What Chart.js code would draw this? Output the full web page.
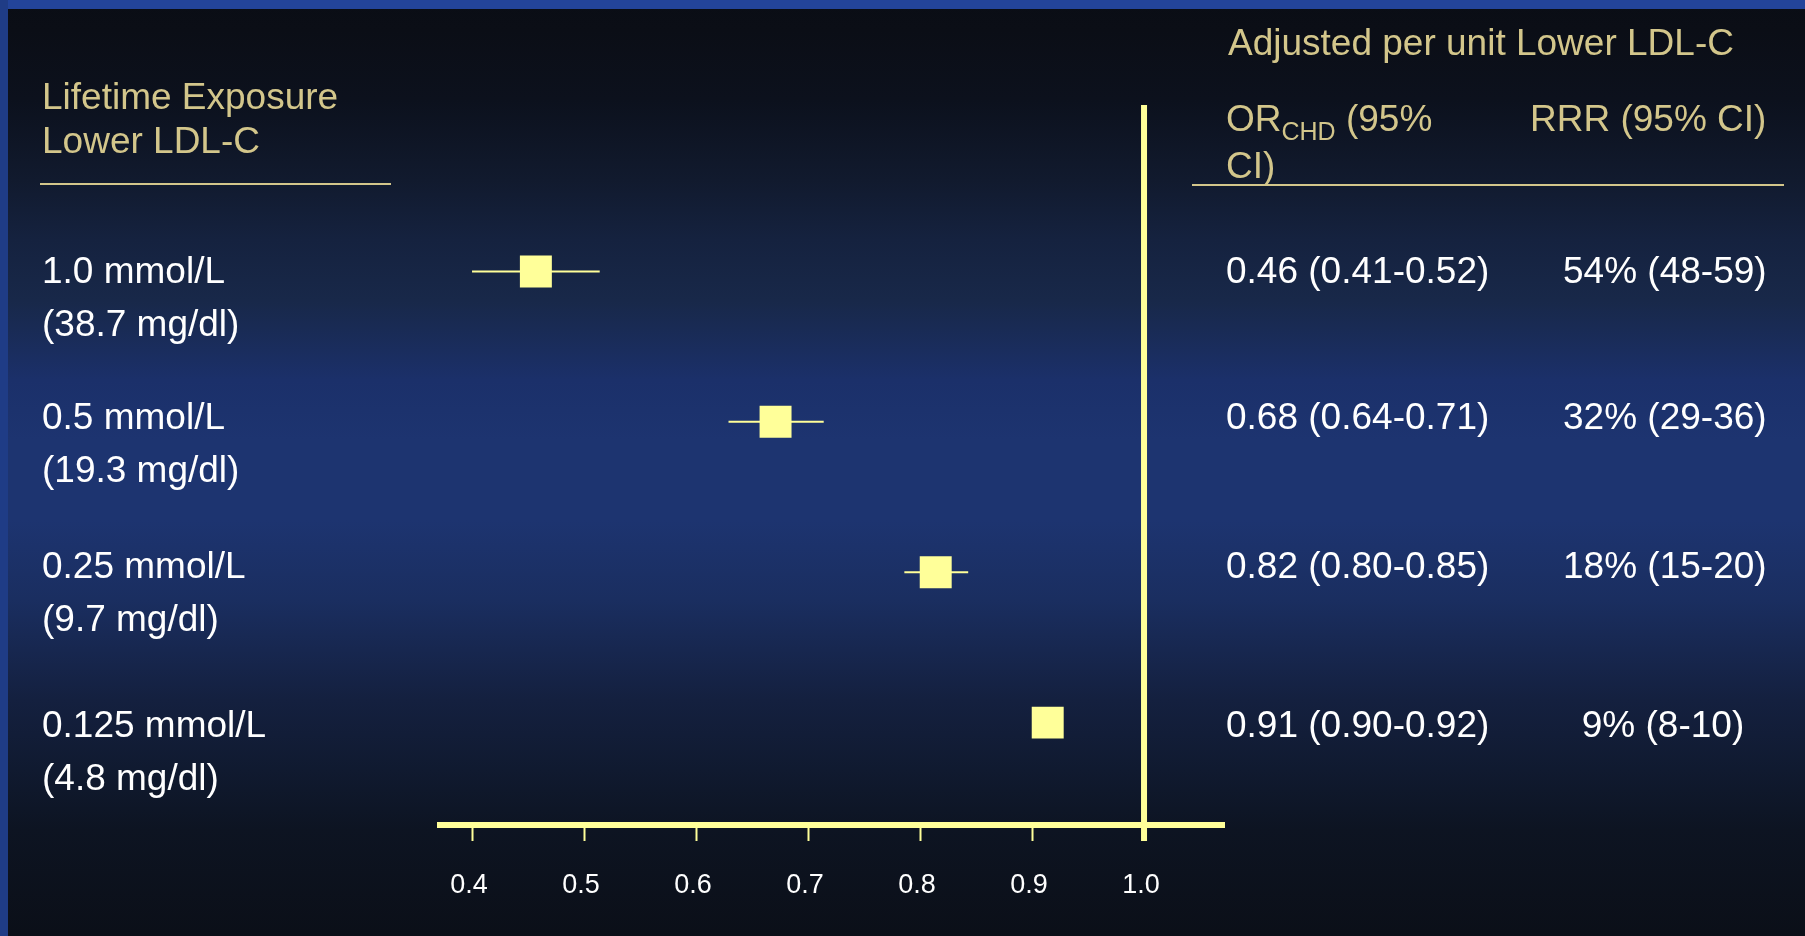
<!DOCTYPE html>
<html lang="en">
<head>
    <meta charset="UTF-8">
    <title>Lifetime Exposure to Lower LDL-C</title>
    <script src="https://cdn.jsdelivr.net/npm/chart.js"></script>
    <style>
        html, body { margin: 0; padding: 0; }
        body {
            width: 1805px; height: 936px; overflow: hidden; position: relative;
            font-family: "Liberation Sans", Arial, sans-serif; color: #fff;
            background: linear-gradient(to bottom,
                #0a0d15 0px, #0b0e16 30px, #0c111d 100px, #111a2e 180px, #15223f 240px,
                #182849 300px, #1b306a 380px, #1d3470 440px, #1d3470 520px, #1a2e60 600px,
                #14203f 700px, #101a30 770px, #0d1422 830px, #0b0f18 936px);
        }
        .band-top { position: absolute; left: 0; top: 0; width: 1805px; height: 9px; background: #23449a; }
        .band-left { position: absolute; left: 0; top: 0; width: 8px; height: 936px; background: #1f3c86; }
        #forest { position: absolute; left: 0; top: 0; }
        .txt { position: absolute; font-size: 37px; white-space: nowrap; }
        .head { color: #d3c68b; line-height: 44px; }
        .head2 { color: #d3c68b; line-height: 43px; }
        .row { line-height: 53px; }
        .rule { position: absolute; height: 2px; background: #d3c68b; }
        .head2 sub { font-size: 25px; vertical-align: baseline; position: relative; top: 9px; }
    </style>
</head>
<body>
    <div class="band-top"></div>
    <div class="band-left"></div>
    <canvas id="forest" width="1805" height="936"></canvas>

    <div class="txt head" style="left:42px; top:75px;">Lifetime Exposure<br>Lower LDL-C</div>
    <div class="rule" style="left:40px; top:183px; width:351px;"></div>

    <div class="txt head" style="left:1228px; top:21px;">Adjusted per unit Lower LDL-C</div>
    <div class="txt head2" style="left:1226px; top:97px;">OR<sub>CHD</sub> (95%<br>CI)</div>
    <div class="txt head2" style="left:1530px; top:97px;">RRR (95% CI)</div>
    <div class="rule" style="left:1192px; top:184px; width:592px;"></div>

    <div id="rows"></div>

    <script>
        const exposureMmol = ['1.0 mmol/L', '0.5 mmol/L', '0.25 mmol/L', '0.125 mmol/L'];
        const exposureMgdl = ['(38.7 mg/dl)', '(19.3 mg/dl)', '(9.7 mg/dl)', '(4.8 mg/dl)'];
        const oddsRatio = [0.457, 0.671, 0.814, 0.914];
        const ciLower = [0.400, 0.629, 0.786, 0.900];
        const ciUpper = [0.514, 0.714, 0.843, 0.920];
        const orLabels = ['0.46 (0.41-0.52)', '0.68 (0.64-0.71)', '0.82 (0.80-0.85)', '0.91 (0.90-0.92)'];
        const rrrLabels = ['54% (48-59)', '32% (29-36)', '18% (15-20)', '9% (8-10)'];
        const xTicks = [0.4, 0.5, 0.6, 0.7, 0.8, 0.9, 1.0];
        const noEffect = 1.0;

        const yellow = '#ffff99';
        const fontFamily = '"Liberation Sans", Arial, sans-serif';

        // text rows, baselines taken from the slide
        const rowBaselines = [283, 429, 578, 737];
        const rowsEl = document.getElementById('rows');
        function addText(html, style) {
            const d = document.createElement('div');
            d.className = 'txt row';
            d.style.cssText = style;
            d.innerHTML = html;
            rowsEl.appendChild(d);
        }
        exposureMmol.forEach((label, i) => {
            const top = rowBaselines[i] - 39;
            addText(label + '<br>' + exposureMgdl[i], `left:42px; top:${top}px;`);
            addText(orLabels[i], `left:1226px; top:${top}px;`);
            addText(rrrLabels[i], `left:1563px; width:200px; text-align:center; top:${top}px;`);
        });

        const whiskers = oddsRatio.map((_, i) => ({
            showLine: true,
            data: [{ x: ciLower[i], y: i }, { x: ciUpper[i], y: i }],
            borderColor: yellow,
            borderWidth: 2,
            pointRadius: 0,
            fill: false,
            order: 1
        }));

        const squares = {
            data: oddsRatio.map((v, i) => ({ x: v, y: i })),
            pointStyle: 'rect',
            pointRadius: 22.6,
            pointBackgroundColor: yellow,
            pointBorderWidth: 0,
            order: 0
        };

        const noEffectLine = {
            id: 'noEffectLine',
            beforeDatasetsDraw(chart) {
                const { ctx, chartArea, scales } = chart;
                const x = scales.x.getPixelForValue(noEffect);
                ctx.save();
                ctx.fillStyle = yellow;
                ctx.fillRect(x - 3, chartArea.top, 6, chartArea.bottom + 16 - chartArea.top);
                ctx.restore();
            }
        };

        new Chart(document.getElementById('forest'), {
            type: 'scatter',
            data: { datasets: [squares, ...whiskers] },
            options: {
                responsive: false,
                animation: false,
                events: [],
                layout: { padding: { left: 440, right: 581, top: 105, bottom: 0 } },
                plugins: { legend: { display: false }, tooltip: { enabled: false } },
                scales: {
                    x: {
                        type: 'linear',
                        min: 0.3714,
                        max: 1.0714,
                        afterBuildTicks: s => { s.ticks = xTicks.map(v => ({ value: v })); },
                        afterFit: s => { s.height = 111; },
                        grid: { drawOnChartArea: false, drawTicks: true, tickLength: 16, tickWidth: 2, tickColor: yellow },
                        border: { display: true, color: yellow, width: 6 },
                        ticks: {
                            color: '#ffffff',
                            font: { family: fontFamily, size: 27 },
                            padding: 28,
                            labelOffset: -3,
                            autoSkip: false,
                            maxRotation: 0,
                            callback: v => Number(v).toFixed(1)
                        }
                    },
                    y: { type: 'linear', reverse: true, min: -1.1064, max: 3.6808, display: false }
                }
            },
            plugins: [noEffectLine]
        });
    </script>
</body>
</html>
